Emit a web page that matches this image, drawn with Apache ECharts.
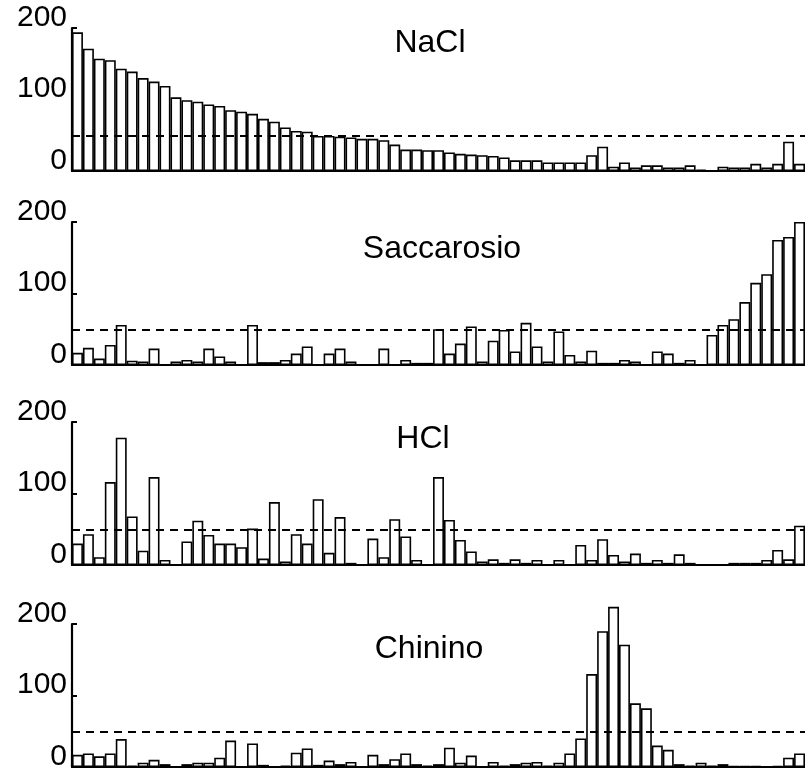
<!DOCTYPE html>
<html><head><meta charset="utf-8">
<script src="https://cdn.jsdelivr.net/npm/echarts@6/dist/echarts.min.js"></script>
<style>html,body{margin:0;padding:0;background:#fff}#c{width:805px;height:775px}</style>
</head><body><div id="c"></div>
<script>
// ---- data ----
const categories = [1,2,3,4,5,6,7,8,9,10,11,12,13,14,15,16,17,18,19,20,21,22,23,24,25,26,27,28,29,30,31,32,33,34,35,36,37,38,39,40,41,42,43,44,45,46,47,48,49,50,51,52,53,54,55,56,57,58,59,60,61,62,63,64,65,66,67];
const panelTitles = ['NaCl', 'Saccarosio', 'HCl', 'Chinino'];
const yTickValues = [0, 100, 200];
const thresholdValue = 50;

const naclValues = [194,171,157,155,143,139,130,125,119,103,99,97,93,91,85,83,80,73,69,61,56,55,49,49,48,47,45,45,43,37,30,30,29,29,26,24,23,22,21,19,15,15,15,12,12,12,12,22,34,6,12,5,8,8,5,5,8,2,0,6,5,5,10,5,10,41,10];
const saccarosioValues = [17,24,9,28,56,6,5,23,0,5,7,5,23,12,5,0,56,4,4,7,16,26,0,16,23,5,0,0,23,0,7,3,3,50,16,30,54,5,34,49,19,59,26,5,47,14,5,20,3,3,7,5,0,19,16,3,7,0,42,56,64,88,115,127,175,179,200];
const hclValues = [30,43,11,116,178,68,20,123,7,0,33,62,42,30,30,25,51,9,88,5,43,30,92,17,67,3,0,37,11,64,40,7,0,123,63,35,19,5,8,3,8,3,7,0,7,0,28,7,36,14,5,16,3,7,3,15,3,0,0,0,3,3,3,7,21,8,55];
const chininoValues = [17,19,15,19,39,2,6,10,4,0,4,6,6,13,37,0,33,3,0,2,20,26,3,9,4,7,0,17,4,11,19,4,2,4,27,6,16,0,7,2,4,6,7,2,6,19,40,130,190,224,171,89,82,30,24,4,2,6,2,4,1,1,1,0,1.5,13,19];

const panelValues = [naclValues, saccarosioValues, hclValues, chininoValues];

// ---- layout / style ----
const gridTops = [28, 222, 422, 624];
const gridHeight = 143;
const titleCenterX = [430, 442, 423, 429];
const titleTop = [27, 233, 423, 633];
const FONT = 'Liberation Sans, Arial, Helvetica, sans-serif';

const grids = [], xAxes = [], yAxes = [], series = [], titles = [];
for (let i = 0; i < 4; i++) {
  grids.push({ left: 72, right: 0, top: gridTops[i], height: gridHeight, containLabel: false });
  xAxes.push({
    type: 'category', gridIndex: i, data: categories, boundaryGap: true,
    axisLine: { show: true, lineStyle: { color: '#000', width: 2.2 } },
    axisTick: { show: false }, axisLabel: { show: false }, splitLine: { show: false }
  });
  yAxes.push({
    type: 'value', gridIndex: i, min: yTickValues[0], max: yTickValues[yTickValues.length - 1], interval: 100,
    axisLine: { show: true, lineStyle: { color: '#000', width: 2.2 } },
    axisTick: { show: true, inside: true, length: 5, lineStyle: { color: '#000', width: 2 } },
    splitLine: { show: false },
    axisLabel: {
      show: true, color: '#000', fontSize: 30, fontFamily: FONT, margin: 5,
      verticalAlign: 'bottom', lineHeight: 21
    }
  });
  series.push({
    type: 'bar', xAxisIndex: i, yAxisIndex: i, data: panelValues[i],
    barCategoryGap: '0%', clip: false, silent: true,
    itemStyle: { color: '#fff', borderColor: '#000', borderWidth: 1.6 },
    markLine: {
      silent: true, symbol: ['none', 'none'], label: { show: false },
      lineStyle: { color: '#000', width: 1.8, type: [8, 6] },
      data: [{ yAxis: thresholdValue }]
    }
  });
  titles.push({
    text: panelTitles[i], left: titleCenterX[i], top: titleTop[i], textAlign: 'center', padding: 0,
    textStyle: { fontSize: 32, fontWeight: 'normal', color: '#000', fontFamily: FONT }
  });
}

const chart = echarts.init(document.getElementById('c'), null, { renderer: 'canvas' });
chart.setOption({
  backgroundColor: '#fff',
  animation: false,
  title: titles,
  grid: grids,
  xAxis: xAxes,
  yAxis: yAxes,
  series: series
});
</script>
</body></html>
